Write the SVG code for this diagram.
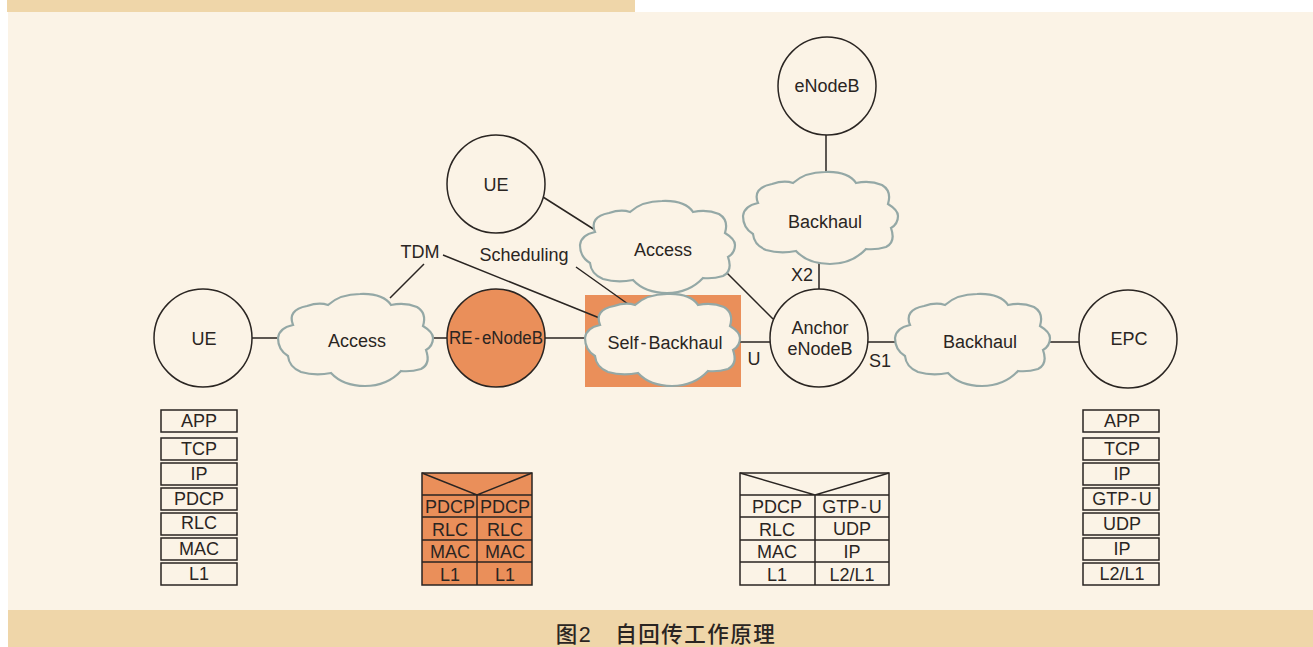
<svg xmlns="http://www.w3.org/2000/svg" width="1313" height="647" viewBox="0 0 1313 647">
<style>
text{font-family:"Liberation Sans","Noto Sans CJK SC",sans-serif;font-size:18px;fill:#2a2522;text-anchor:middle}
.n{fill:#fbf3e6;stroke:#2a2522;stroke-width:1.5}
.o{fill:#ea8f5a;stroke:#2a2522;stroke-width:1.5}
.c{fill:#fbf3e6;stroke:#94a8a6;stroke-width:2.2}
.l{stroke:#2a2522;stroke-width:1.5;fill:none}
.tight{word-spacing:-3px}
.cap{font-size:21.5px;letter-spacing:1.5px;font-weight:500}
</style>
<defs>
<path id="cloud" d="M-77,-2 Q-76,-12 -62,-15 Q-68,-30 -48,-34 Q-36,-38 -27,-35 Q-15,-46 5,-46 Q28,-47 36,-35 Q50,-38 62,-33 Q72,-27 68,-14 Q78,-8 78,-2 Q78,6 71,10 Q76,24 66,29 Q56,32 46,31 Q32,46 10,46 Q-12,46 -24,33 Q-40,36 -54,32 Q-66,27 -67,16 Q-77,10 -77,-2Z"/>
</defs>
<rect width="1313" height="647" fill="#ffffff"/>
<rect x="8" y="12" width="1305" height="598" fill="#fbf3e6"/>
<rect x="7" y="0" width="628" height="12" fill="#efd6a9"/>
<rect x="8" y="610" width="1305" height="37" fill="#efd6a9"/>
<rect x="585" y="295" width="156" height="92" fill="#ea8f5a"/>
<g id="connectors" class="l">
<path d="M252 338H277M432 338H447M545 338H585M735 342H770M868 342H895M1050 342H1080M819 263V289M826 135V172M543 197L595 230M424 264L390 298M443 255L602 319M576 267L628 304M727 273L773 319"/>
</g>
<g id="ue-left"><circle class="n" cx="203" cy="338" r="49"/><text x="204" y="345">UE</text></g>
<g id="access-left"><use href="#cloud" class="c" x="355" y="340"/><text x="357" y="347">Access</text></g>
<g id="re-enodeb"><circle class="o" cx="496" cy="338" r="49"/><text class="tight" x="496" y="344" textLength="94" lengthAdjust="spacingAndGlyphs">RE - eNodeB</text></g>
<g id="ue-top"><circle class="n" cx="496" cy="184" r="49"/><text x="496" y="191">UE</text></g>
<g id="access-mid"><use href="#cloud" class="c" x="657" y="247"/><text x="663" y="256">Access</text></g>
<g id="self-backhaul"><use href="#cloud" class="c" x="662" y="340"/><text class="tight" x="665" y="349">Self - Backhaul</text></g>
<g id="enodeb-top"><circle class="n" cx="827" cy="86" r="49"/><text x="827" y="92">eNodeB</text></g>
<g id="backhaul-top"><use href="#cloud" class="c" x="820" y="218"/><text x="825" y="228">Backhaul</text></g>
<g id="anchor"><circle class="n" cx="819" cy="338" r="49"/><text x="820" y="334">Anchor</text><text x="820" y="355">eNodeB</text></g>
<g id="backhaul-right"><use href="#cloud" class="c" x="972" y="340"/><text x="980" y="348">Backhaul</text></g>
<g id="epc"><circle class="n" cx="1128" cy="339" r="49"/><text x="1129" y="345">EPC</text></g>
<g id="labels">
<text x="420" y="258">TDM</text><text x="524" y="261">Scheduling</text><text x="802" y="281">X2</text><text x="754" y="365">U</text><text x="880" y="367">S1</text>
</g>
<g id="stack-left">
<rect class="n" x="161" y="410" width="76" height="22"/><rect class="n" x="161" y="438" width="76" height="22"/><rect class="n" x="161" y="463" width="76" height="22"/><rect class="n" x="161" y="488" width="76" height="22"/><rect class="n" x="161" y="513" width="76" height="22"/><rect class="n" x="161" y="538" width="76" height="22"/><rect class="n" x="161" y="563" width="76" height="22"/>
<text x="199" y="427">APP</text><text x="199" y="455">TCP</text><text x="199" y="480">IP</text><text x="199" y="505">PDCP</text><text x="199" y="529">RLC</text><text x="199" y="555">MAC</text><text x="199" y="580">L1</text>
</g>
<g id="stack-right">
<rect class="n" x="1083" y="410" width="76" height="22"/><rect class="n" x="1083" y="438" width="76" height="22"/><rect class="n" x="1083" y="463" width="76" height="22"/><rect class="n" x="1083" y="488" width="76" height="22"/><rect class="n" x="1083" y="513" width="76" height="22"/><rect class="n" x="1083" y="538" width="76" height="22"/><rect class="n" x="1083" y="563" width="76" height="22"/>
<text x="1122" y="427">APP</text><text x="1122" y="455">TCP</text><text x="1122" y="480">IP</text><text class="tight" x="1122" y="505">GTP - U</text><text x="1122" y="530">UDP</text><text x="1122" y="555">IP</text><text x="1122" y="580">L2/L1</text>
</g>
<g id="stack-re">
<rect class="o" x="422" y="473" width="110" height="112"/>
<path class="l" d="M422 473L477 495L532 473M422 495H532M422 517H532M422 540H532M422 562H532M477 495V585"/>
<text x="450" y="513">PDCP</text><text x="505" y="513">PDCP</text><text x="450" y="536">RLC</text><text x="505" y="536">RLC</text><text x="450" y="558">MAC</text><text x="505" y="558">MAC</text><text x="450" y="581">L1</text><text x="505" y="581">L1</text>
</g>
<g id="stack-anchor">
<rect class="n" x="740" y="473" width="149" height="112"/>
<path class="l" d="M740 473L815 495L889 473M740 495H889M740 517H889M740 540H889M740 562H889M815 495V585"/>
<text x="777" y="513">PDCP</text><text class="tight" x="852" y="513">GTP - U</text><text x="777" y="536">RLC</text><text x="852" y="535">UDP</text><text x="777" y="558">MAC</text><text x="852" y="558">IP</text><text x="777" y="581">L1</text><text x="852" y="581">L2/L1</text>
</g>
<text class="cap" x="666" y="642">图2　自回传工作原理</text>
</svg>
